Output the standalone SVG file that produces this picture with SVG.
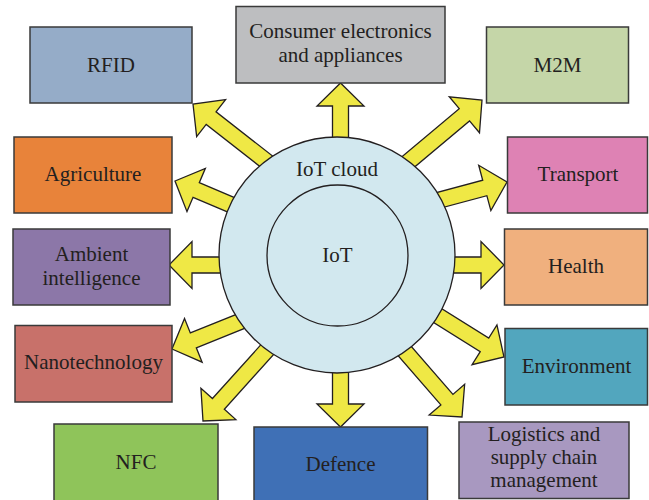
<svg xmlns="http://www.w3.org/2000/svg" xmlns:xlink="http://www.w3.org/1999/xlink" width="649" height="500" viewBox="0 0 649 500">
<style>
.box{stroke:#3a3a3a;stroke-width:1.5}
.t{font-family:"Liberation Serif","Times New Roman",serif;font-size:21px;fill:#231f20;text-anchor:middle}
.arrow{fill:#efe845;stroke:#231f20;stroke-width:1.3;stroke-linejoin:miter}
</style>
<defs>
<path id="arr" d="M-150,-8 L-23,-8 L-23,-23.5 L0,0 L-23,23.5 L-23,8 L-150,8 Z"/>
</defs>
<rect width="649" height="500" fill="#ffffff"/>
<g id="connectors">
<use xlink:href="#arr" class="arrow" transform="translate(193,104) rotate(218)"/>
<use xlink:href="#arr" class="arrow" transform="translate(340.5,83) rotate(-90)"/>
<use xlink:href="#arr" class="arrow" transform="translate(482,100) rotate(-40)"/>
<use xlink:href="#arr" class="arrow" transform="translate(507,182) rotate(-15)"/>
<use xlink:href="#arr" class="arrow" transform="translate(504,265) rotate(0)"/>
<use xlink:href="#arr" class="arrow" transform="translate(504,357) rotate(32)"/>
<use xlink:href="#arr" class="arrow" transform="translate(462,417) rotate(49)"/>
<use xlink:href="#arr" class="arrow" transform="translate(340.5,427) rotate(90)"/>
<use xlink:href="#arr" class="arrow" transform="translate(203,421) rotate(132)"/>
<use xlink:href="#arr" class="arrow" transform="translate(172,349) rotate(158)"/>
<use xlink:href="#arr" class="arrow" transform="translate(169,265) rotate(180)"/>
<use xlink:href="#arr" class="arrow" transform="translate(175,181) rotate(203)"/>
</g>
<g id="iot-cloud">
<circle cx="337" cy="255" r="118" fill="#d2e8ef" stroke="#231f20" stroke-width="1.3"/>
<text class="t" x="337" y="176">IoT cloud</text>
</g>
<g id="iot">
<circle cx="337.5" cy="255.5" r="70.5" fill="#d2e8ef" stroke="#231f20" stroke-width="1.3"/>
<text class="t" x="337.5" y="262">IoT</text>
</g>
<g id="rfid">
<rect class="box" x="30" y="27" width="162" height="76" fill="#95acc8"/>
<text class="t" x="111" y="72">RFID</text>
</g>
<g id="consumer">
<rect class="box" x="236" y="6.5" width="209" height="76.5" fill="#bdbec0"/>
<text class="t" x="340.5" y="38">Consumer electronics</text>
<text class="t" x="340.5" y="62">and appliances</text>
</g>
<g id="m2m">
<rect class="box" x="486.5" y="27" width="142" height="76" fill="#c5d6a8"/>
<text class="t" x="557.5" y="72">M2M</text>
</g>
<g id="agriculture">
<rect class="box" x="14" y="137" width="158" height="76" fill="#e8833a"/>
<text class="t" x="93" y="181">Agriculture</text>
</g>
<g id="transport">
<rect class="box" x="507.5" y="137" width="140" height="76" fill="#de82b4"/>
<text class="t" x="578" y="181">Transport</text>
</g>
<g id="ambient">
<rect class="box" x="13" y="229" width="157" height="76" fill="#8c77a8"/>
<text class="t" x="91.5" y="261">Ambient</text>
<text class="t" x="91.5" y="285">intelligence</text>
</g>
<g id="health">
<rect class="box" x="504.5" y="229" width="143" height="76" fill="#f0b07e"/>
<text class="t" x="576" y="273">Health</text>
</g>
<g id="nanotechnology">
<rect class="box" x="15" y="325.5" width="157" height="76.5" fill="#c8716a"/>
<text class="t" x="93.5" y="369">Nanotechnology</text>
</g>
<g id="environment">
<rect class="box" x="505" y="328.5" width="142.5" height="76.5" fill="#52a6be"/>
<text class="t" x="576.5" y="373">Environment</text>
</g>
<g id="nfc">
<rect class="box" x="54" y="424" width="164" height="80" fill="#8fc45a"/>
<text class="t" x="136" y="469">NFC</text>
</g>
<g id="defence">
<rect class="box" x="254" y="427" width="173.5" height="80" fill="#3f70b6"/>
<text class="t" x="340.5" y="471">Defence</text>
</g>
<g id="logistics">
<rect class="box" x="459" y="422" width="170" height="76.5" fill="#a898c0"/>
<text class="t" x="544" y="441">Logistics and</text>
<text class="t" x="544" y="464">supply chain</text>
<text class="t" x="544" y="487">management</text>
</g>
</svg>
